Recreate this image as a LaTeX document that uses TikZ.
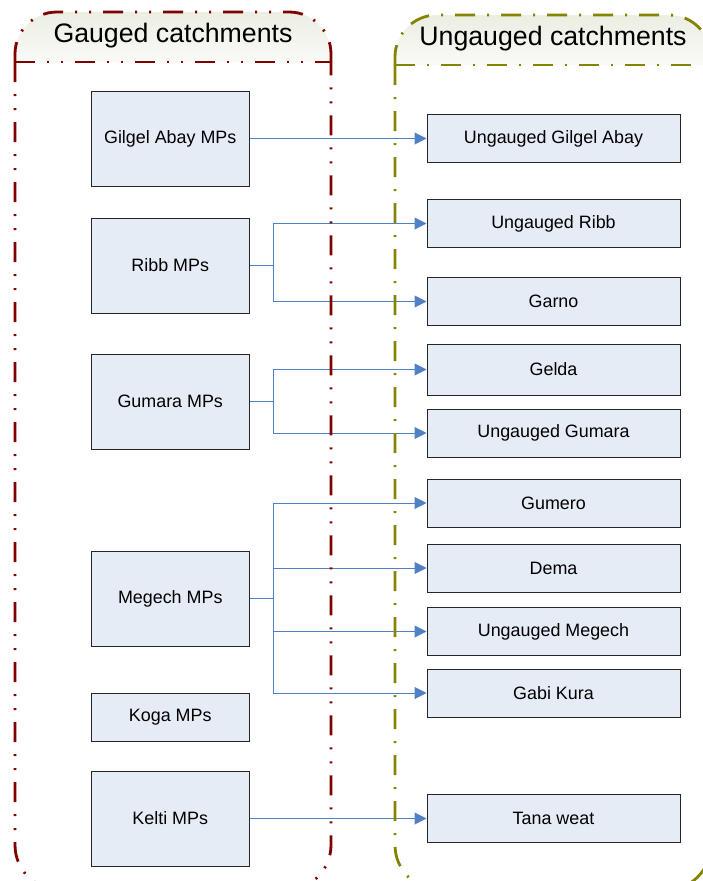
\documentclass[tikz,border=0pt]{standalone}
\usepackage{fontspec}
\setmainfont{Liberation Sans}
\usepackage{xcolor}
\usepackage{tikz}
\usetikzlibrary{arrows.meta}
\definecolor{gaugedred}{RGB}{128,0,0}
\definecolor{ungaugedolive}{RGB}{132,132,0}
\definecolor{boxfill}{RGB}{230,236,246}
\definecolor{linkblue}{RGB}{79,129,196}
\definecolor{headfill}{RGB}{236,238,226}
\tikzstyle{catchbox} = [draw=black!85, fill=boxfill, line width=1pt,
rectangle, inner sep=0pt, minimum width=158pt, minimum height=95pt,
font=\fontsize{17.9}{20}\selectfont]
\tikzstyle{targetbox} = [catchbox, minimum width=253pt, minimum height=48pt]
\tikzstyle{link} = [draw=linkblue, line width=1pt, -{Triangle[length=12pt,width=12pt]}]
\tikzstyle{gaugedline} = [draw=gaugedred, line width=2.8pt,
dash pattern=on 20pt off 12pt on 2pt off 12pt on 2pt off 12pt]
\tikzstyle{ungaugedline} = [draw=ungaugedolive, line width=2.8pt,
dash pattern=on 20pt off 12pt on 2pt off 12pt]
\tikzstyle{headtext} = [font=\fontsize{26.7}{30}\selectfont, inner sep=0pt]

\begin{document}
\begin{tikzpicture}[x=1pt, y=-1pt]
        \useasboundingbox (0,0) rectangle (703,881);
        \node[catchbox] (gilgel) at (170.25,138.5) {Gilgel Abay MPs};
        \node[catchbox] (ribb) at (170.25,265.5) {Ribb MPs};
        \node[catchbox] (gumara) at (170.25,401.5) {Gumara MPs};
        \node[catchbox] (megech) at (170.25,598.5) {Megech MPs};
        \node[catchbox, minimum height=48pt] (koga) at (170.25,717) {Koga MPs};
        \node[catchbox] (kelti) at (170.25,818.5) {Kelti MPs};

        \node[targetbox] (ugilgel) at (553.5,138.5) {Ungauged Gilgel Abay};
        \node[targetbox] (uribb) at (553.5,223.5) {Ungauged Ribb};
        \node[targetbox] (garno) at (553.5,301.5) {Garno};
        \node[targetbox, minimum height=51pt] (gelda) at (553.5,369.5) {Gelda};
        \node[targetbox] (ugumara) at (553.5,433) {Ungauged Gumara};
        \node[targetbox] (gumero) at (553.5,503) {Gumero};
        \node[targetbox] (dema) at (553.5,568) {Dema};
        \node[targetbox] (umegech) at (553.5,631.5) {Ungauged Megech};
        \node[targetbox] (gabikura) at (553.5,693) {Gabi Kura};
        \node[targetbox] (tana) at (553.5,818.5) {Tana weat};

        \draw[link] (gilgel.east) -- (ugilgel.west);
        \draw[link] (ribb.east) -- ++(24,0) |- (uribb.west);
        \draw[link] (ribb.east) -- ++(24,0) |- (garno.west);
        \draw[link] (gumara.east) -- ++(24,0) |- (gelda.west);
        \draw[link] (gumara.east) -- ++(24,0) |- (ugumara.west);
        \draw[link] (megech.east) -- ++(24,0) |- (gumero.west);
        \draw[link] (megech.east) -- ++(24,0) |- (dema.west);
        \draw[link] (megech.east) -- ++(24,0) |- (umegech.west);
        \draw[link] (megech.east) -- ++(24,0) |- (gabikura.west);
        \draw[link] (kelti.east) -- (tana.west);

        \draw[gaugedline, top color=headfill, bottom color=headfill!30, rounded corners=42pt]
            (15,62) -- (15,12) -- (331,12) -- (331,62);
        \draw[gaugedline] (15,62) -- (331,62);
        \draw[gaugedline, rounded corners=45pt] (15,62) -- (15,890) -- (331,890) -- (331,62);
        \draw[ungaugedline, top color=headfill, bottom color=headfill!30, rounded corners=42pt]
            (395,65) -- (395,15) -- (711,15) -- (711,65);
        \draw[ungaugedline] (395,65) -- (711,65);
        \draw[ungaugedline, rounded corners=45pt] (395,65) -- (395,890) -- (711,890) -- (711,65);

        \node[headtext] (gaugedtitle) at (173,36) {Gauged catchments};
        \node[headtext] (ungaugedtitle) at (553,39) {Ungauged catchments};
    \end{tikzpicture}
\end{document}
